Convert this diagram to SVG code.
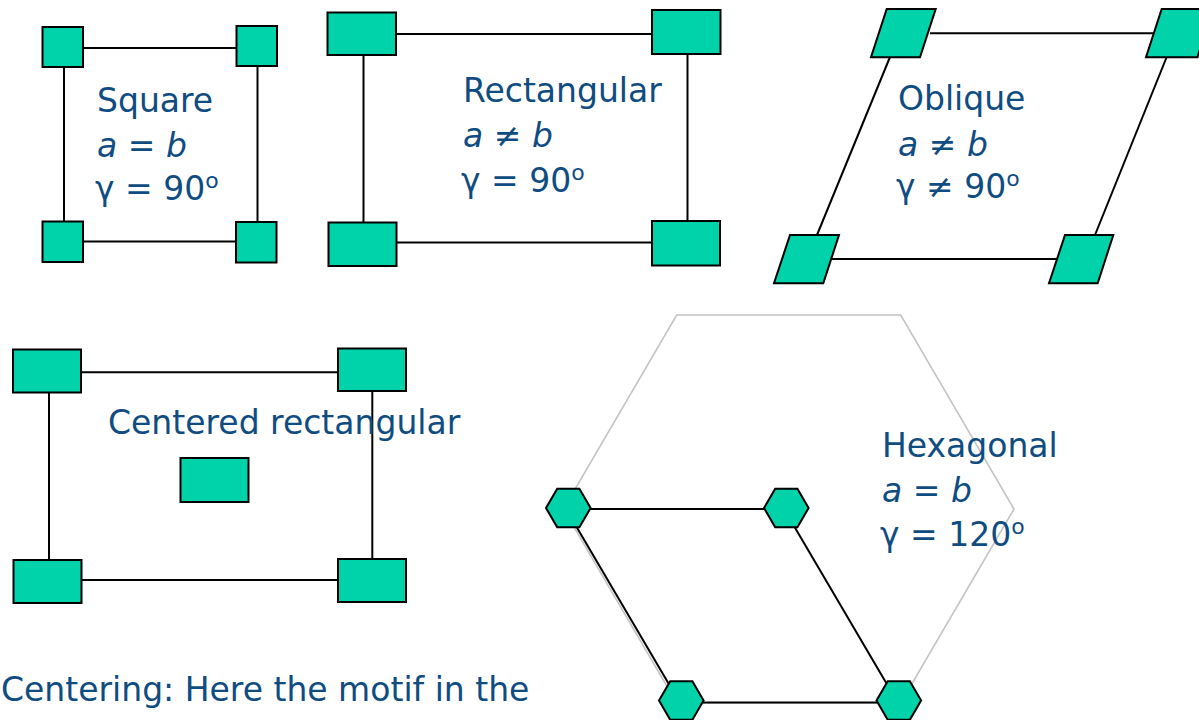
<svg xmlns="http://www.w3.org/2000/svg" width="1199" height="720" viewBox="0 0 1199 720">
<style>
.n{fill:#00d2aa;stroke:#000;stroke-width:2}
.c{stroke:#000;stroke-width:2;fill:none}
.g{stroke:#c4c4c4;stroke-width:1.6;fill:none}
text{font-family:"DejaVu Sans","Liberation Sans",sans-serif;font-size:33px;fill:#0f4c81}
.i{font-style:italic}
.s{font-size:22px}
</style>
<rect width="1199" height="720" fill="#fff"/>
<polygon class="g" points="676.7,315 900.7,315 1014,509 900.7,703 676.7,703 563.4,509"/>
<g id="connectors">
<line class="c" x1="83" y1="48" x2="237" y2="48"/>
<line class="c" x1="64" y1="66" x2="64" y2="221"/>
<line class="c" x1="257.5" y1="65" x2="257.5" y2="222"/>
<line class="c" x1="83" y1="241.5" x2="236" y2="241.5"/>
<line class="c" x1="396" y1="34" x2="652" y2="34"/>
<line class="c" x1="363.5" y1="55" x2="363.5" y2="222"/>
<line class="c" x1="687.5" y1="54" x2="687.5" y2="221"/>
<line class="c" x1="397" y1="242.5" x2="652" y2="242.5"/>
<line class="c" x1="930" y1="33.3" x2="1165" y2="33.3"/>
<line class="c" x1="890" y1="57" x2="817" y2="235"/>
<line class="c" x1="1166.7" y1="57" x2="1095" y2="235"/>
<line class="c" x1="832" y1="259" x2="1058" y2="259"/>
<line class="c" x1="81" y1="372.3" x2="338" y2="372.3"/>
<line class="c" x1="49" y1="392" x2="49" y2="560"/>
<line class="c" x1="372.3" y1="391" x2="372.3" y2="559"/>
<line class="c" x1="82" y1="580" x2="338" y2="580"/>
<line class="c" x1="590" y1="509" x2="764" y2="509"/>
<line class="c" x1="576" y1="526" x2="670" y2="686"/>
<line class="c" x1="794" y1="526" x2="888" y2="686"/>
<line class="c" x1="703" y1="702.5" x2="877" y2="702.5"/>
</g>
<g id="square">
<rect class="n" x="42.5" y="27" width="40.5" height="40"/>
<rect class="n" x="236.5" y="26" width="40.5" height="40"/>
<rect class="n" x="42.5" y="221.5" width="40.5" height="40.5"/>
<rect class="n" x="236" y="222" width="40.5" height="40.5"/>
<text x="97" y="112">Square</text>
<text x="97" y="157"><tspan class="i">a</tspan> = <tspan class="i">b</tspan></text>
<text x="95" y="200">γ = 90<tspan class="s" dy="-12">o</tspan></text>
</g>
<g id="rectangular">
<rect class="n" x="327.5" y="12.5" width="68.5" height="42.5"/>
<rect class="n" x="652" y="10" width="68.5" height="44"/>
<rect class="n" x="328.5" y="222.5" width="68" height="43.5"/>
<rect class="n" x="652" y="221" width="68" height="44.5"/>
<text x="463" y="102">Rectangular</text>
<text x="463" y="147"><tspan class="i">a</tspan> ≠ <tspan class="i">b</tspan></text>
<text x="461" y="192">γ = 90<tspan class="s" dy="-12">o</tspan></text>
</g>
<g id="oblique">
<polygon class="n" points="886.7,9 935.7,9 920,57.3 871,57.3"/>
<polygon class="n" points="1161.7,9 1213,9 1197.5,57.3 1146,57.3"/>
<polygon class="n" points="790,235 839,235 823.3,283.3 774,283.3"/>
<polygon class="n" points="1065,235 1113.3,235 1097.7,283.3 1049,283.3"/>
<text x="898" y="110">Oblique</text>
<text x="898" y="156"><tspan class="i">a</tspan> ≠ <tspan class="i">b</tspan></text>
<text x="896" y="198">γ ≠ 90<tspan class="s" dy="-12">o</tspan></text>
</g>
<g id="centered">
<rect class="n" x="13" y="349.5" width="68" height="43"/>
<rect class="n" x="338" y="348.5" width="68" height="42.5"/>
<rect class="n" x="13.5" y="560" width="68" height="43"/>
<rect class="n" x="338" y="559" width="68" height="43"/>
<rect class="n" x="180.5" y="458" width="68" height="44"/>
<text x="108" y="434" font-size="33.5">Centered rectangular</text>
</g>
<g id="hexagonal">
<polygon class="n" points="546,508 557.2,488.7 579.4,488.7 590.6,508 579.4,527.3 557.2,527.3"/>
<polygon class="n" points="764,508 775.2,488.7 797.4,488.7 808.6,508 797.4,527.3 775.2,527.3"/>
<polygon class="n" points="659,700.5 670.2,681.2 692.4,681.2 703.6,700.5 692.4,719.8 670.2,719.8"/>
<polygon class="n" points="876.5,700.5 887.7,681.2 909.9,681.2 921.1,700.5 909.9,719.8 887.7,719.8"/>
<text x="882" y="457">Hexagonal</text>
<text x="882" y="502"><tspan class="i">a</tspan> = <tspan class="i">b</tspan></text>
<text x="880" y="546">γ = 120<tspan class="s" dy="-12">o</tspan></text>
</g>
<g id="caption">
<text x="1" y="701" font-size="33.5">Centering: Here the motif in the</text>
</g>
</svg>
